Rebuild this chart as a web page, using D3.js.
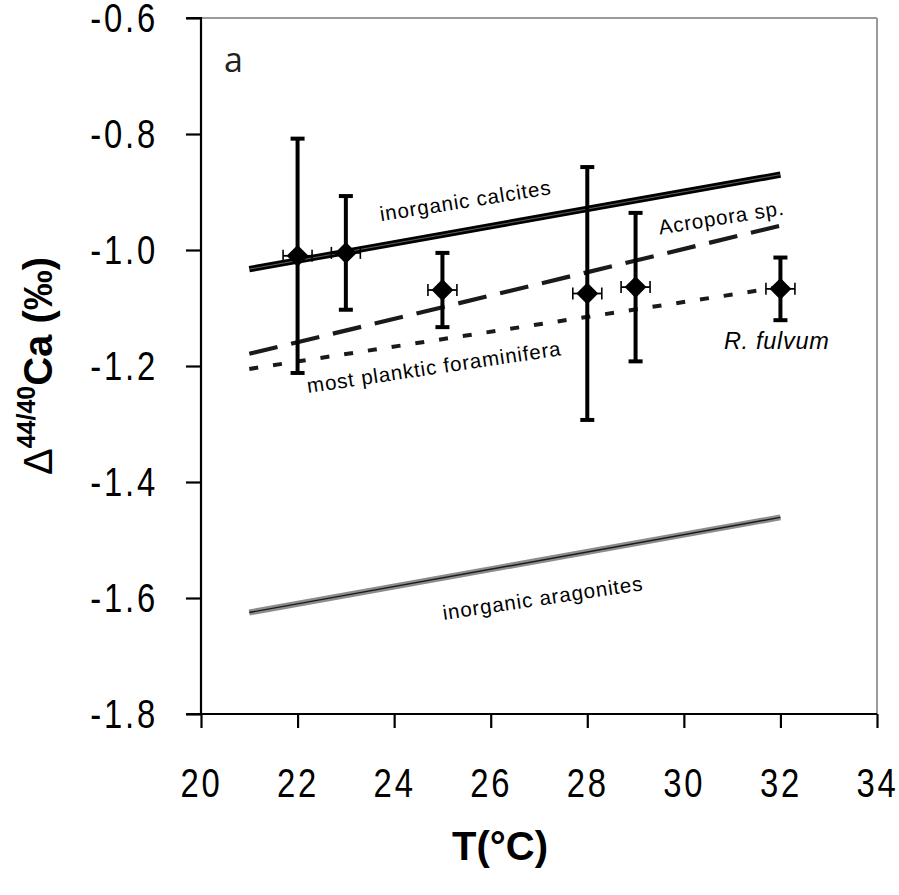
<!DOCTYPE html>
<html>
<head>
<meta charset="utf-8">
<script src="https://cdn.jsdelivr.net/npm/d3@7"></script>
<style>
  html, body { margin: 0; padding: 0; background: #fff; }
  svg { display: block; }
  .tick text { font-family: "Liberation Sans", Arial, sans-serif; font-size: 41px; letter-spacing: 3.5px; fill: #000; }
  .lbl { font-family: "Liberation Sans", Arial, sans-serif; font-size: 20.5px; letter-spacing: 0.9px; fill: #000; }
</style>
</head>
<body>
<script>
// Measured Δ44/40Ca values at each growth temperature
const temps   = [22, 23, 25, 28, 29, 32];
const d44     = [-1.010, -1.005, -1.069, -1.075, -1.064, -1.067];
const d44Err  = [0.202, 0.098, 0.064, 0.218, 0.128, 0.054];
const tempErr = [0.3, 0.3, 0.3, 0.3, 0.3, 0.3];

// Reference calibration lines (end points at 21 and 32 °C)
const lineT      = [21, 32];
const calcite    = [-1.033, -0.870];
const acropora   = [-1.179, -0.958];
const planktic   = [-1.205, -1.064];
const aragonite  = [-1.625, -1.461];

// Axis ticks
const xTicks = [20, 22, 24, 26, 28, 30, 32, 34];
const yTicks = [-1.8, -1.6, -1.4, -1.2, -1.0, -0.8, -0.6];

const W = 899, H = 895;
const svg = d3.select("body").append("svg").attr("width", W).attr("height", H);

const x = d3.scaleLinear().domain([20, 34]).range([201, 877]);
const y = d3.scaleLinear().domain([-1.8, -0.6]).range([714, 18]);

// Frame: grey top and right edges
svg.append("line").attr("x1", x(20)).attr("x2", x(34)).attr("y1", y(-0.6)).attr("y2", y(-0.6))
  .attr("stroke", "#9a9a9a").attr("stroke-width", 2);
svg.append("line").attr("x1", x(34)).attr("x2", x(34)).attr("y1", y(-0.6)).attr("y2", y(-1.8))
  .attr("stroke", "#9a9a9a").attr("stroke-width", 2);

// Axes (tick labels condensed horizontally)
const squeeze = 0.8;
const fmt = d => d.toFixed(1);
const gy = svg.append("g").attr("transform", `translate(${x(20)},0)`)
  .call(d3.axisLeft(y).tickValues(yTicks).tickSize(15).tickPadding(28).tickFormat(fmt));
const gx = svg.append("g").attr("transform", `translate(0,${y(-1.8)})`)
  .call(d3.axisBottom(x).tickValues(xTicks).tickSize(14).tickPadding(40).tickFormat(d3.format("d")));
[gx, gy].forEach(g => {
  g.select(".domain").attr("stroke", "#000").attr("stroke-width", 2.2);
  g.selectAll(".tick line").attr("stroke", "#000").attr("stroke-width", 2.2);
  g.selectAll(".tick text").attr("fill", "#000");
});
gy.selectAll(".tick text").attr("x", -43 / squeeze).attr("transform", `scale(${squeeze},1)`);
gx.selectAll(".tick text").attr("transform", `scale(${squeeze},1)`);
gy.select(".domain").attr("d", `M-15,${y(-0.6)}H0V${y(-1.8)}`);
gx.select(".domain").attr("d", `M${x(20) - 15},0H${x(34)}`);

// Calibration lines
const seg = vals => d3.line().x((d, i) => x(lineT[i])).y(d => y(d))(vals);

// inorganic calcites: heavy black with a fine light core
svg.append("path").attr("d", seg(calcite)).attr("stroke", "#000").attr("stroke-width", 6.4).attr("fill", "none");
svg.append("path").attr("d", seg(calcite)).attr("stroke", "#777").attr("stroke-width", 0.8).attr("fill", "none");

// Acropora sp.: long dashes
svg.append("path").attr("d", seg(acropora)).attr("stroke", "#1a1a1a").attr("stroke-width", 4.2)
  .attr("stroke-dasharray", "29 14").attr("fill", "none");

// most planktic foraminifera: short dashes
svg.append("path").attr("d", seg(planktic)).attr("stroke", "#1a1a1a").attr("stroke-width", 4)
  .attr("stroke-dasharray", "9 15").attr("fill", "none");

// inorganic aragonites: grey band with a dark core
svg.append("path").attr("d", seg(aragonite)).attr("stroke", "#8c8c8c").attr("stroke-width", 6).attr("fill", "none");
svg.append("path").attr("d", seg(aragonite)).attr("stroke", "#1a1a1a").attr("stroke-width", 1.4).attr("fill", "none");

// Error bars
const pts = temps.map((t, i) => ({ t, v: d44[i], ey: d44Err[i], ex: tempErr[i] }));
const eb = svg.append("g");
pts.forEach(p => {
  const cx = x(p.t), cy = y(p.v);
  const y1 = y(p.v + p.ey), y2 = y(p.v - p.ey);
  eb.append("line").attr("x1", cx).attr("x2", cx).attr("y1", y1).attr("y2", y2)
    .attr("stroke", "#000").attr("stroke-width", 4);
  [y1, y2].forEach(yy => eb.append("line").attr("x1", cx - 7).attr("x2", cx + 7).attr("y1", yy).attr("y2", yy)
    .attr("stroke", "#000").attr("stroke-width", 4));
  const x1 = x(p.t - p.ex), x2 = x(p.t + p.ex);
  eb.append("line").attr("x1", x1).attr("x2", x2).attr("y1", cy).attr("y2", cy)
    .attr("stroke", "#000").attr("stroke-width", 1.8);
  [x1, x2].forEach(xx => eb.append("line").attr("x1", xx).attr("x2", xx).attr("y1", cy - 6).attr("y2", cy + 6)
    .attr("stroke", "#000").attr("stroke-width", 1.6));
});

// Diamond markers
svg.append("g").selectAll("path").data(pts).join("path")
  .attr("d", d3.symbol(d3.symbolDiamond2, 540))
  .attr("transform", d => `translate(${x(d.t)},${y(d.v)}) rotate(45) scale(0.75) rotate(-45)`)
  .attr("fill", "#000");

// Line labels
const label = (txt, t, v, ang) => svg.append("text").attr("class", "lbl")
  .attr("transform", `translate(${x(t)},${y(v)}) rotate(${ang})`)
  .attr("text-anchor", "middle").text(txt);
label("inorganic calcites", 25.5, -0.927, -9);
label("Acropora sp.", 30.8, -0.956, -9);
label("most planktic foraminifera", 24.85, -1.214, -8.5);
label("inorganic aragonites", 27.1, -1.612, -8.5);
svg.append("text").attr("class", "lbl")
  .attr("x", x(30.83)).attr("y", y(-1.171))
  .attr("font-style", "italic").style("font-size", "23.5px").style("letter-spacing", "0.7px")
  .text("R. fulvum");

// Panel letter
svg.append("text").attr("x", 224).attr("y", 72)
  .attr("font-family", "'Open Sans', 'Liberation Sans', sans-serif").attr("font-size", 34).attr("fill", "#222")
  .text("a");

// Axis titles
svg.append("text").attr("x", 500).attr("y", 860).attr("text-anchor", "middle")
  .attr("font-family", "'Liberation Sans', Arial, sans-serif").attr("font-weight", "bold").attr("font-size", 40)
  .text("T(°C)");

const yt = svg.append("text")
  .attr("transform", `translate(52,${(y(-0.6) + y(-1.8)) / 2}) rotate(-90)`)
  .attr("text-anchor", "middle")
  .attr("font-family", "'Liberation Sans', Arial, sans-serif").attr("font-size", 40);
yt.append("tspan").text("Δ");
yt.append("tspan").attr("font-weight", "bold").attr("font-size", 25).attr("dy", -17).text("44/40");
yt.append("tspan").attr("font-weight", "bold").attr("dy", 17).text("Ca (‰)");
</script>
</body>
</html>
